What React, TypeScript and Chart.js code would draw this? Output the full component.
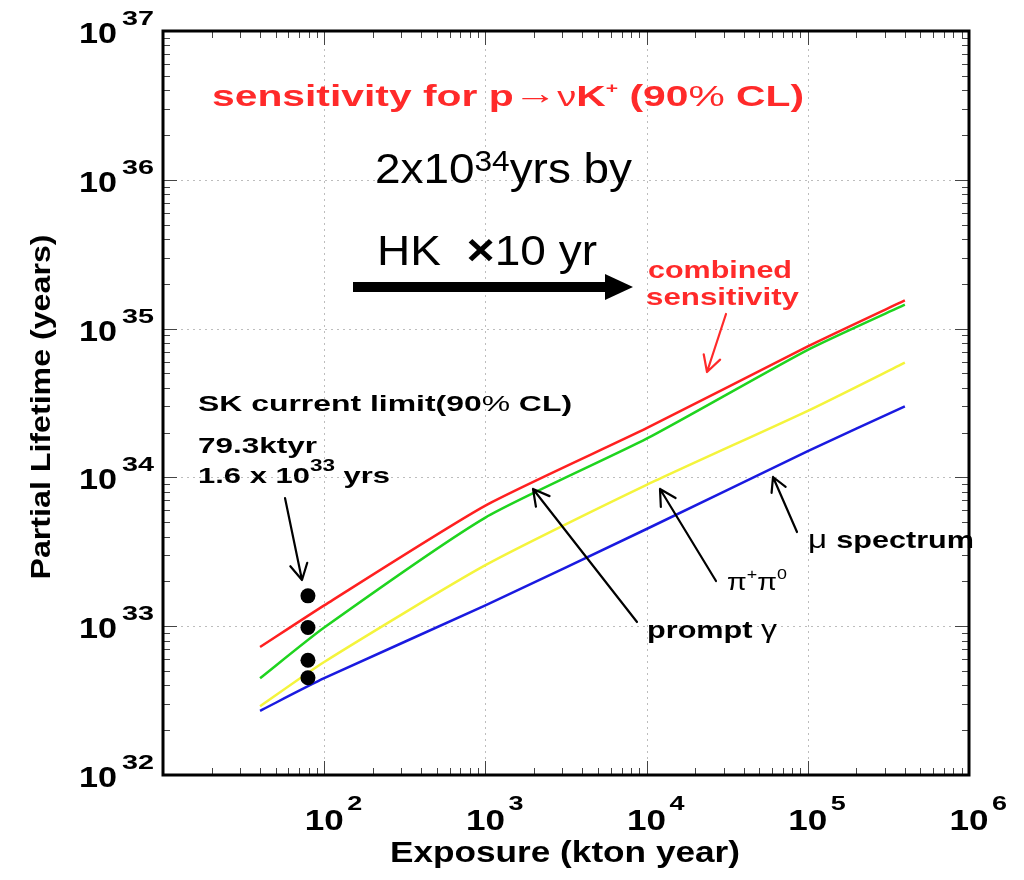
import React, { useEffect, useRef } from 'react';
import { Chart, registerables } from 'chart.js';
Chart.register(...registerables);

// ---- data ----
const exposureKtonYear = [40, 100, 1000, 10000, 100000, 400000];
const combinedLifetime = [7.24e32, 1.38e33, 6.46e33, 2.14e34, 7.6e34, 1.55e35];
const promptGammaLifetime = [4.47e32, 9.8e32, 5.37e33, 1.82e34, 7.2e34, 1.45e35];
const pipiLifetime = [2.9e32, 5.75e32, 2.57e33, 8.9e33, 2.8e34, 5.9e34];
const muSpectrumLifetime = [2.7e32, 4.47e32, 1.38e33, 4.5e33, 1.5e34, 3.0e34];
const skExposure = [79.3, 79.3, 79.3, 79.3];
const skLimit = [1.6e33, 9.8e32, 5.9e32, 4.5e32];
const xDecades = [1, 2, 3, 4, 5];
const yDecades = [32, 33, 34, 35, 36];
const xLabelExps = [2, 3, 4, 5, 6];
const yLabelExps = [32, 33, 34, 35, 36, 37];

const FONT = '"Liberation Sans", Arial, Helvetica, sans-serif';
const bold = (s: number) => `bold ${s}px ${FONT}`;
const norm = (s: number) => `${s}px ${FONT}`;

type Run = { t: string; f: string; dy?: number };

function drawRuns(
  ctx: CanvasRenderingContext2D,
  runs: Run[],
  x: number,
  y: number,
  opts: { w?: number; align?: 'left' | 'center' | 'right'; color?: string } = {}
) {
  ctx.save();
  ctx.fillStyle = opts.color || '#000';
  ctx.textBaseline = 'alphabetic';
  ctx.textAlign = 'left';
  const widths = runs.map((r) => {
    ctx.font = r.f;
    return ctx.measureText(r.t).width;
  });
  const total = widths.reduce((a, b) => a + b, 0);
  const sx = opts.w ? opts.w / total : 1;
  const W = total * sx;
  let x0 = x;
  if (opts.align === 'center') x0 = x - W / 2;
  else if (opts.align === 'right') x0 = x - W;
  ctx.translate(x0, y);
  ctx.scale(sx, 1);
  let cx = 0;
  runs.forEach((r, i) => {
    ctx.font = r.f;
    ctx.fillText(r.t, cx, r.dy || 0);
    cx += widths[i];
  });
  ctx.restore();
}

function arrow(
  ctx: CanvasRenderingContext2D,
  x1: number, y1: number, x2: number, y2: number,
  color: string, lw: number, head = 17
) {
  ctx.save();
  ctx.strokeStyle = color;
  ctx.lineWidth = lw;
  ctx.lineCap = 'round';
  ctx.lineJoin = 'round';
  ctx.beginPath();
  ctx.moveTo(x1, y1);
  ctx.lineTo(x2, y2);
  const ang = Math.atan2(y2 - y1, x2 - x1);
  for (const s of [-1, 1]) {
    const a = ang + Math.PI + s * 0.5;
    ctx.moveTo(x2, y2);
    ctx.lineTo(x2 + head * Math.cos(a), y2 + head * Math.sin(a));
  }
  ctx.stroke();
  ctx.restore();
}

const decor = {
  id: 'decor',
  beforeDatasetsDraw(chart: any) {
    const { ctx, chartArea: a, scales } = chart;
    const xs = scales.x;
    const ys = scales.y;
    ctx.save();
    ctx.strokeStyle = '#bdbdbd';
    ctx.lineWidth = 1;
    ctx.setLineDash([2, 4]);
    xDecades.forEach((e) => {
      const v = Math.pow(10, e);
      if (v <= xs.min || v >= xs.max) return;
      const px = Math.round(xs.getPixelForValue(v)) + 0.5;
      ctx.beginPath();
      ctx.moveTo(px, a.top);
      ctx.lineTo(px, a.bottom);
      ctx.stroke();
    });
    yDecades.forEach((e) => {
      const v = Math.pow(10, e);
      if (v <= ys.min || v >= ys.max) return;
      const py = Math.round(ys.getPixelForValue(v)) + 0.5;
      ctx.beginPath();
      ctx.moveTo(a.left, py);
      ctx.lineTo(a.right, py);
      ctx.stroke();
    });
    ctx.restore();
  },
  afterDatasetsDraw(chart: any) {
    const { ctx, chartArea: a, scales } = chart;
    const xs = scales.x;
    const ys = scales.y;
    ctx.save();
    // minor / major ticks (inward, all four sides)
    ctx.strokeStyle = '#444';
    ctx.lineWidth = 1;
    xDecades.forEach((e) => {
      for (let m = 1; m <= 9; m++) {
        const v = m * Math.pow(10, e);
        if (v <= xs.min || v >= xs.max) continue;
        const px = Math.round(xs.getPixelForValue(v)) + 0.5;
        const len = m === 1 ? 14 : 7;
        ctx.beginPath();
        ctx.moveTo(px, a.bottom);
        ctx.lineTo(px, a.bottom - len);
        ctx.moveTo(px, a.top);
        ctx.lineTo(px, a.top + len);
        ctx.stroke();
      }
    });
    yDecades.forEach((e) => {
      for (let m = 1; m <= 9; m++) {
        const v = m * Math.pow(10, e);
        if (v <= ys.min || v >= ys.max) continue;
        const py = Math.round(ys.getPixelForValue(v)) + 0.5;
        const len = m === 1 ? 14 : 7;
        ctx.beginPath();
        ctx.moveTo(a.left, py);
        ctx.lineTo(a.left + len, py);
        ctx.moveTo(a.right, py);
        ctx.lineTo(a.right - len, py);
        ctx.stroke();
      }
    });
    // frame
    ctx.strokeStyle = '#000';
    ctx.lineWidth = 3;
    ctx.strokeRect(a.left, a.top, a.right - a.left, a.bottom - a.top);
    ctx.restore();

    // tick labels
    yLabelExps.forEach((e) => {
      const py = ys.getPixelForValue(Math.pow(10, e));
      drawRuns(ctx, [{ t: '10', f: bold(29) }], a.left - 46, py + 12, { w: 38, align: 'right' });
      drawRuns(ctx, [{ t: String(e), f: bold(21) }], a.left - 41, py - 6, { w: 32 });
    });
    xLabelExps.forEach((e) => {
      const px = xs.getPixelForValue(Math.pow(10, e));
      drawRuns(ctx, [{ t: '10', f: bold(29) }], px, a.bottom + 55, { w: 39, align: 'center' });
      drawRuns(ctx, [{ t: String(e), f: bold(21) }], px + 23, a.bottom + 35, { w: 15 });
    });

    // axis titles
    ctx.save();
    ctx.translate(50, 407);
    ctx.rotate(-Math.PI / 2);
    drawRuns(ctx, [{ t: 'Partial Lifetime (years)', f: bold(27) }], 0, 0, { w: 345, align: 'center' });
    ctx.restore();
    drawRuns(ctx, [{ t: 'Exposure (kton year)', f: bold(29) }], 565, 862, { w: 350, align: 'center' });

    // annotations
    const RED = '#ff2a2a';
    drawRuns(
      ctx,
      [
        { t: 'sensitivity for p', f: bold(29) },
        { t: '\u2192', f: norm(31), dy: -2 },
        { t: '\u03BD', f: norm(27) },
        { t: 'K', f: bold(29) },
        { t: '+', f: bold(15), dy: -13 },
        { t: ' (90', f: bold(29) },
        { t: '%', f: norm(29) },
        { t: ' CL)', f: bold(29) },
      ],
      212, 106, { w: 592, color: RED }
    );
    drawRuns(
      ctx,
      [
        { t: '2x10', f: norm(42) },
        { t: '34', f: norm(29), dy: -12 },
        { t: 'yrs by', f: norm(42) },
      ],
      375, 183, { w: 257 }
    );
    drawRuns(
      ctx,
      [
        { t: 'HK  ', f: norm(42) },
        { t: '\u00D7', f: bold(44) },
        { t: '10 yr', f: norm(42) },
      ],
      377, 265, { w: 220 }
    );
    // thick arrow
    ctx.save();
    ctx.strokeStyle = '#000';
    ctx.fillStyle = '#000';
    ctx.lineWidth = 10;
    ctx.beginPath();
    ctx.moveTo(353, 287);
    ctx.lineTo(610, 287);
    ctx.stroke();
    ctx.beginPath();
    ctx.moveTo(605, 274);
    ctx.lineTo(633, 287);
    ctx.lineTo(605, 300);
    ctx.closePath();
    ctx.fill();
    ctx.restore();

    drawRuns(ctx, [{ t: 'combined', f: bold(24) }], 648, 278, { w: 144, color: RED });
    drawRuns(ctx, [{ t: 'sensitivity', f: bold(24) }], 646, 305, { w: 153, color: RED });
    arrow(ctx, 726, 314, 707, 372, RED, 2.2, 18);

    drawRuns(ctx, [{ t: 'SK current limit(90', f: bold(22) }, { t: '%', f: norm(22) }, { t: ' CL)', f: bold(22) }], 198, 411, { w: 374 });
    drawRuns(ctx, [{ t: '79.3ktyr', f: bold(22) }], 198, 453, { w: 119 });
    drawRuns(
      ctx,
      [
        { t: '1.6 x 10', f: bold(22) },
        { t: '33', f: bold(16), dy: -12 },
        { t: ' yrs', f: bold(22) },
      ],
      198, 483, { w: 192 }
    );
    arrow(ctx, 285, 498, 302, 580, '#000', 2.2, 18);

    drawRuns(ctx, [{ t: 'prompt ', f: bold(24) }, { t: '\u03B3', f: norm(25) }], 647, 638, { w: 130 });
    arrow(ctx, 637, 622, 533, 489, '#000', 2.2, 18);

    drawRuns(
      ctx,
      [
        { t: '\u03C0', f: norm(24) },
        { t: '+', f: norm(15), dy: -11 },
        { t: '\u03C0', f: norm(24) },
        { t: '0', f: norm(15), dy: -11 },
      ],
      727, 590, { w: 60 }
    );
    arrow(ctx, 716, 581, 660, 489, '#000', 2.2, 18);

    drawRuns(ctx, [{ t: '\u03BC ', f: norm(26) }, { t: 'spectrum', f: bold(24) }], 808, 548, { w: 166 });
    arrow(ctx, 797, 532, 773, 477, '#000', 2.2, 16);
  },
};

export default function App() {
  const ref = useRef<HTMLCanvasElement>(null);
  useEffect(() => {
    const mk = (ys: number[]) => exposureKtonYear.map((x, i) => ({ x, y: ys[i] }));
    const line = (label: string, ys: number[], color: string, order: number) => ({
      label,
      data: mk(ys),
      borderColor: color,
      backgroundColor: color,
      borderWidth: 2.5,
      pointRadius: 0,
      tension: 0.2,
      fill: false,
      order,
    });
    const chart = new Chart(ref.current as HTMLCanvasElement, {
      type: 'line',
      data: {
        datasets: [
          {
            label: 'SK current limit',
            type: 'scatter',
            data: skExposure.map((x, i) => ({ x, y: skLimit[i] })),
            pointRadius: 7.5,
            pointBackgroundColor: '#000',
            pointBorderColor: '#000',
            pointBorderWidth: 0,
            showLine: false,
            order: 0,
          } as any,
          line('combined sensitivity', combinedLifetime, '#ff2020', 1),
          line('prompt gamma', promptGammaLifetime, '#1fd41f', 2),
          line('pi+ pi0', pipiLifetime, '#f4f43c', 3),
          line('mu spectrum', muSpectrumLifetime, '#1a1ae0', 4),
        ],
      },
      options: {
        animation: false,
        responsive: false,
        events: [],
        layout: { padding: { top: 31, right: 55, left: 0, bottom: 0 } },
        plugins: { legend: { display: false }, tooltip: { enabled: false } },
        scales: {
          x: {
            type: 'logarithmic',
            min: 10,
            max: 1e6,
            ticks: { display: false },
            grid: { display: false },
            border: { display: false },
            afterFit: (s: any) => {
              s.height = 105;
            },
          },
          y: {
            type: 'logarithmic',
            min: 1e32,
            max: 1e37,
            ticks: { display: false },
            grid: { display: false },
            border: { display: false },
            afterFit: (s: any) => {
              s.width = 163;
            },
          },
        },
      },
      plugins: [decor],
    });
    return () => chart.destroy();
  }, []);
  return (
    <canvas
      ref={ref}
      width={1024}
      height={880}
      style={{ position: 'fixed', left: 0, top: 0, width: 1024, height: 880, background: '#fff', display: 'block' }}
    />
  );
}
